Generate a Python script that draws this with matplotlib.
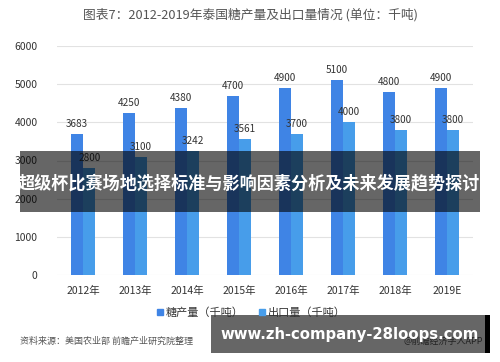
import numpy as np
import matplotlib.pyplot as plt
from matplotlib.patches import Rectangle
from matplotlib.lines import Line2D

plt.rcParams['font.family'] = ['Noto Sans CJK SC', 'DejaVu Sans']

years = ["2012年", "2013年", "2014年", "2015年", "2016年", "2017年", "2018年", "2019E"]
sugar = [3683, 4250, 4380, 4700, 4900, 5100, 4800, 4900]
export = [2800, 3100, 3242, 3561, 3700, 4000, 3800, 3800]

c_sugar = "#3f84e5"
c_export = "#479dea"

fig = plt.figure(figsize=(5, 3.62), dpi=100)
ax = fig.add_axes([57/500, 1 - 275/362, 416/500, 229/362])

x = np.arange(len(years))
w = 0.24
ax.bar(x - w/2, sugar, w, color=c_sugar, zorder=2)
ax.bar(x + w/2, export, w, color=c_export, zorder=2)

for i in range(len(years)):
    ax.text(x[i] - w/2, sugar[i] + 130, str(sugar[i]), ha="center", va="bottom",
            fontsize=7.2, color="#333333")
    ax.text(x[i] + w/2, export[i] + 130, str(export[i]), ha="center", va="bottom",
            fontsize=7.2, color="#333333")

ax.set_xlim(-0.5, len(years) - 0.5)
ax.set_ylim(0, 6000)
ax.set_yticks(range(0, 6001, 1000))
ax.set_xticks(x)
ax.set_xticklabels(years)
ax.tick_params(axis="both", length=0, labelsize=7.5, colors="#333333")
ax.tick_params(axis="x", pad=8)
ax.tick_params(axis="y", pad=14)
ax.grid(axis="y", color="#e2e2e2", linewidth=0.8, zorder=0)
for s in ax.spines.values():
    s.set_visible(False)

fig.text(0.5, 1 - 15/362, "图表7：2012-2019年泰国糖产量及出口量情况 (单位：千吨)",
         ha="center", va="center", fontsize=9.2, color="#555555")

handles = [Line2D([], [], marker="s", linestyle="", color=c_sugar, markersize=4),
           Line2D([], [], marker="s", linestyle="", color=c_export, markersize=4)]
fig.legend(handles, ["糖产量（千吨）", "出口量（千吨）"], loc="center",
           bbox_to_anchor=(0.5, 1 - 313/362), ncol=2, frameon=False,
           fontsize=8, handletextpad=0.0, handlelength=1.0, columnspacing=1.2,
           labelcolor="#333333")

fig.text(20/500, 1 - 341/362, "资料来源：美国农业部 前瞻产业研究院整理",
         ha="left", va="center", fontsize=6.5, color="#555555", style="italic")
fig.text(483/500, 1 - 341/362, "@前瞻经济学人APP",
         ha="right", va="center", fontsize=6.5, color="#555555", zorder=1)

# overlay banners
fig.patches.append(Rectangle((20/500, 1 - 212/362), 460/500, 61/362,
                             transform=fig.transFigure, facecolor="black",
                             alpha=0.6, zorder=5))
fig.text(249/500, 1 - 183/362, "超级杯比赛场地选择标准与影响因素分析及未来发展趋势探讨",
         ha="center", va="center", fontsize=12.3, color="white",
         fontweight="bold", zorder=6)

fig.patches.append(Rectangle((211/500, 1 - 353/362), 274/500, 38/362,
                             transform=fig.transFigure, facecolor="black",
                             alpha=0.6, zorder=5))
fig.patches.append(Rectangle((485/500, 1 - 353/362), 5/500, 38/362,
                             transform=fig.transFigure, facecolor="black",
                             zorder=5))
fig.text(350/500, 1 - 335/362, "www.zh-company-28loops.com",
         ha="center", va="center", fontsize=10.7, color="white",
         fontweight="bold", family="DejaVu Sans", zorder=6)

fig.savefig("out.png", dpi=100)
